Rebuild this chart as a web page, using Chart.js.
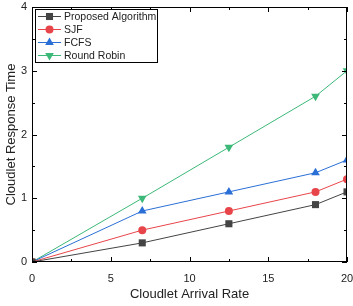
<!DOCTYPE html>
<html><head><meta charset="utf-8">
<script src="https://cdn.jsdelivr.net/npm/chart.js"></script>
<style>html,body{margin:0;padding:0;background:#fff}#wrap{width:353px;height:306px}</style>
</head><body><div id="wrap"><canvas id="c" width="353" height="306"></canvas></div>
<script>
const arrivalRate = [0, 7, 12.5, 18, 20];
const proposed = [0, 0.3, 0.6, 0.9, 1.1];
const sjf = [0, 0.5, 0.8, 1.1, 1.3];
const fcfs = [0, 0.8, 1.1, 1.4, 1.6];
const roundRobin = [0, 1.0, 1.8, 2.6, 3.0];
const seriesNames = ['Proposed Algorithm', 'SJF', 'FCFS', 'Round Robin'];
const xTicks = [0, 5, 10, 15, 20];
const yTicks = [0, 1, 2, 3, 4];

const FONT = 'Liberation Sans, Arial, sans-serif';
const pts = arr => arr.map((v, i) => ({x: arrivalRate[i], y: v}));
const colors = ['#444444', '#e8454a', '#2a6fd6', '#3cb878'];
const styles = [
  {pointStyle: 'rect', rotation: 0, r: 5},
  {pointStyle: 'circle', rotation: 0, r: 4},
  {pointStyle: 'triangle', rotation: 0, r: 5},
  {pointStyle: 'triangle', rotation: 180, r: 5}
];
const values = [proposed, sjf, fcfs, roundRobin];
const datasets = values.map((v, i) => ({
  label: seriesNames[i], data: pts(v), borderColor: colors[i], backgroundColor: colors[i],
  borderWidth: 1, pointStyle: styles[i].pointStyle, rotation: styles[i].rotation,
  pointRadius: styles[i].r, pointHoverRadius: styles[i].r, pointBorderWidth: 0, tension: 0, clip: 0
}));

const frame = {
  id: 'frame',
  afterDatasetsDraw(chart) {
    const {ctx, chartArea: a, scales: {x, y}} = chart;
    ctx.save();
    ctx.strokeStyle = '#000'; ctx.lineWidth = 1;
    ctx.strokeRect(a.left + 0.5, a.top + 0.5, a.right - a.left - 1, a.bottom - a.top - 1);
    ctx.beginPath();
    for (let v = 0; v <= 20.001; v += 2.5) {
      const px = Math.round(x.getPixelForValue(v)) + 0.5;
      const L = (Math.abs(v % 5) < 1e-6) ? 5 : 3;
      ctx.moveTo(px, a.bottom); ctx.lineTo(px, a.bottom - L);
      ctx.moveTo(px, a.top); ctx.lineTo(px, a.top + L);
    }
    for (let v = 0; v <= 4.001; v += 0.5) {
      const py = Math.round(y.getPixelForValue(v)) + 0.5;
      const L = (Math.abs(v % 1) < 1e-6) ? 5 : 3;
      ctx.moveTo(a.left, py); ctx.lineTo(a.left + L, py);
      ctx.moveTo(a.right, py); ctx.lineTo(a.right - L, py);
    }
    ctx.stroke();
    // legend
    const lx = 35, ly = 9, lw = 122, lh = 53;
    ctx.fillStyle = '#fff';
    ctx.fillRect(lx, ly, lw, lh);
    ctx.strokeStyle = '#000';
    ctx.strokeRect(lx + 0.5, ly + 0.5, lw, lh);
    ctx.font = '10.5px ' + FONT;
    ctx.textBaseline = 'middle';
    datasets.forEach((d, i) => {
      const yy = ly + 7.5 + i * 13;
      ctx.strokeStyle = d.borderColor; ctx.lineWidth = 1;
      ctx.beginPath(); ctx.moveTo(lx + 3, yy); ctx.lineTo(lx + 26, yy); ctx.stroke();
      ctx.fillStyle = d.backgroundColor;
      Chart.helpers.drawPoint(ctx, {pointStyle: d.pointStyle, rotation: d.rotation, radius: d.pointRadius, borderWidth: 0}, lx + 14.5, yy);
      ctx.fillStyle = '#222';
      ctx.fillText(d.label, lx + 29, yy + 0.5);
    });
    ctx.restore();
  }
};

new Chart(document.getElementById('c'), {
  type: 'line',
  data: {datasets},
  options: {
    responsive: false, animation: false, devicePixelRatio: 1,
    layout: {padding: {left: 0, right: 6, top: 7, bottom: 0}},
    plugins: {legend: {display: false}, tooltip: {enabled: false}},
    scales: {
      x: {
        type: 'linear', min: 0, max: 20,
        afterFit: s => { s.height = 44; s.paddingLeft = 0; s.paddingRight = 0; },
        afterBuildTicks: s => { s.ticks = xTicks.map(v => ({value: v})); },
        grid: {display: false, drawTicks: false}, border: {display: false},
        ticks: {padding: 10, maxRotation: 0, color: '#222', font: {family: FONT, size: 11}},
        title: {display: true, text: 'Cloudlet Arrival Rate', color: '#222', font: {family: FONT, size: 13}, padding: {top: 4}}
      },
      y: {
        type: 'linear', min: 0, max: 4,
        afterFit: s => { s.width = 32; s.paddingTop = 0; s.paddingBottom = 0; },
        afterBuildTicks: s => { s.ticks = yTicks.map(v => ({value: v})); },
        grid: {display: false, drawTicks: false}, border: {display: false},
        ticks: {padding: 5, color: '#222', font: {family: FONT, size: 11}},
        title: {display: true, text: 'Cloudlet Response Time', color: '#222', font: {family: FONT, size: 13}, padding: {bottom: 2}}
      }
    }
  },
  plugins: [frame]
});
</script></body></html>
